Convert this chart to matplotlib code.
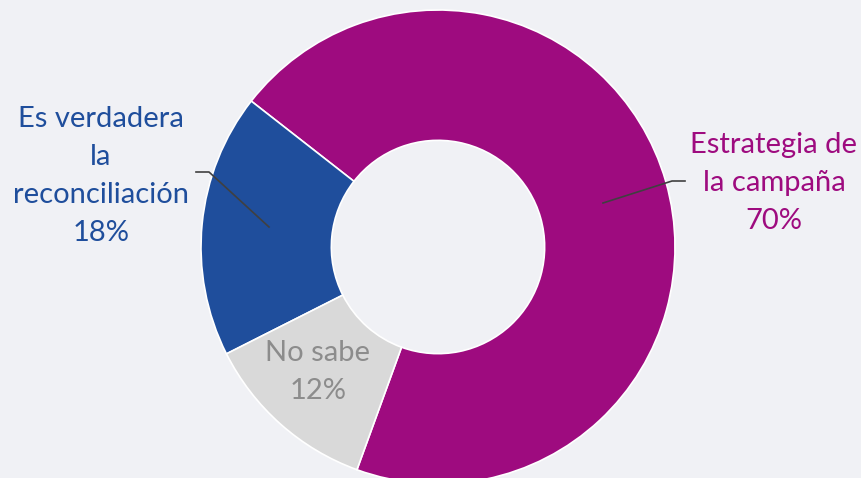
import numpy as np
import matplotlib
matplotlib.use('Agg')
import matplotlib.pyplot as plt

# data
labels=['Estrategia de\nla campaña','Es verdadera\nla\nreconciliación','No sabe']
values=[70,18,12]
colors=['#9E0B7F','#1F4E9C','#D9D9D9']
text_colors=['#9E0B7F','#1F4E9C','#8C8C8C']

bg='#F0F1F5'
fig=plt.figure(figsize=(8.62,4.78),dpi=100,facecolor=bg)
ax=fig.add_axes([0,0,1,1])
ax.set_facecolor(bg)

cx,cy,R=438,247,237
wedges,_=ax.pie(values,colors=colors,startangle=-110,counterclock=True,
                radius=R,center=(cx,-cy),
                wedgeprops=dict(width=R*0.55,edgecolor='white',linewidth=1.2))
# y axis is inverted below (pixel-like coords), so mirror the wedges
for w in wedges:
  w.set_center((cx,cy))
  t1,t2=w.theta1,w.theta2
  w.set_theta1(-t2)
  w.set_theta2(-t1)

ax.set_xlim(0,862)
ax.set_ylim(478,0)
ax.set_aspect('equal')
ax.axis('off')

font=['Lato','DejaVu Sans']
fs=21
ls=1.58
pct=['%d%%'%v for v in values]
ax.text(774,183,labels[0]+'\n'+pct[0],ha='center',va='center',color=text_colors[0],
        fontsize=fs,family=font,linespacing=ls)
ax.text(101,176,labels[1]+'\n'+pct[1],ha='center',va='center',color=text_colors[1],
        fontsize=fs,family=font,linespacing=ls)
ax.text(318,372,labels[2]+'\n'+pct[2],ha='center',va='center',color=text_colors[2],
        fontsize=fs,family=font,linespacing=ls)

# leader lines
ax.plot([603,672,685],[203,181,181],color='#404040',lw=1.2)
ax.plot([269,209,196],[227,172,172],color='#404040',lw=1.2)

fig.savefig('out.png',dpi=100,facecolor=bg)
